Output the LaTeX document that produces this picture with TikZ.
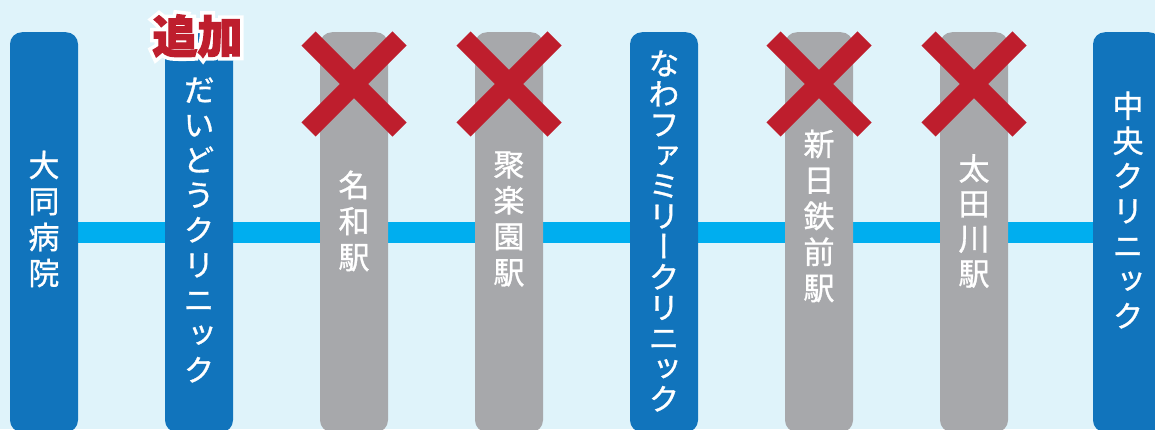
\documentclass[tikz,border=0pt]{standalone}
\usepackage{fontspec}
\newfontfamily\jp[RawFeature=+vert,FakeBold=1]{Noto Sans CJK JP}
\newfontfamily\jpb[FakeBold=3]{Noto Sans CJK JP}
\newfontfamily\jpbw[FakeBold=19]{Noto Sans CJK JP}
\definecolor{bgc}{HTML}{DFF3FA}
\definecolor{barblue}{HTML}{1174BC}
\definecolor{bargray}{HTML}{A7A8AB}
\definecolor{linec}{HTML}{00AEEF}
\definecolor{xred}{HTML}{BE1E2D}
\pgfdeclarelayer{bg}
\pgfsetlayers{bg,main}
\tikzset{
  bar/.style={rectangle,rounded corners=12pt,anchor=north,minimum width=68pt,minimum height=400pt,inner sep=0pt,draw=none},
  bluebar/.style={bar,fill=barblue},
  graybar/.style={bar,fill=bargray},
  lbl/.style={text=white,align=center,inner sep=0pt,font=\jp\fontsize{31}{36}\selectfont},
  lblk/.style={lbl,font=\jp\fontsize{31}{35}\selectfont},
  lbltight/.style={lbl,font=\jp\fontsize{31}{30.5}\selectfont},
  cross/.style={xred,line width=20pt,line cap=butt},
  tag/.style={text=xred,inner sep=0pt,font=\jpb\bfseries\fontsize{45}{45}\selectfont},
  tagw/.style={text=white,inner sep=0pt,font=\jpbw\bfseries\fontsize{45}{45}\selectfont}
}
\begin{document}
\begin{tikzpicture}[x=1pt,y=-1pt]
\useasboundingbox (0,0) rectangle (1155,429);
% bars
\node[bluebar] (b1) at (44,32) {};
\node[bluebar] (b2) at (199,32) {};
\node[graybar] (b3) at (354,32) {};
\node[graybar] (b4) at (509,32) {};
\node[bluebar] (b5) at (664,32) {};
\node[graybar] (b6) at (819,32) {};
\node[graybar] (b7) at (974,32) {};
\node[bluebar] (b8) at (1127,32) {};
\begin{pgfonlayer}{bg}
\fill[bgc] (0,0) rectangle (1155,429);
\draw[linec,line width=21pt] (b1.center) -- (b2.center) -- (b3.center) -- (b4.center) -- (b5.center) -- (b6.center) -- (b7.center) -- (b8.center);
\end{pgfonlayer}
% labels
\node[lbl] (t1) at (44,219) {大\\同\\病\\院};
\node[lblk] (t2) at (199,230) {だ\\い\\ど\\う\\ク\\リ\\ニ\\ッ\\ク};
\node[lbl] (t3) at (354,221) {名\\和\\駅};
\node[lbl] (t4) at (509,219) {聚\\楽\\園\\駅};
\node[lbltight] (t5) at (664,231) {な\\わ\\フ\\ァ\\ミ\\リ\\ー\\ク\\リ\\ニ\\ッ\\ク};
\node[lbl] (t6) at (819,216) {新\\日\\鉄\\前\\駅};
\node[lblk] (t7) at (974,221) {太\\田\\川\\駅};
\node[lblk] (t8) at (1128,210) {中\\央\\ク\\リ\\ニ\\ッ\\ク};
% crosses
\foreach \n/\cx in {3/354,4/509,6/819,7/974}{
  \coordinate (x\n a) at (\cx-45.5,38.5);
  \coordinate (x\n b) at (\cx+45.5,129.5);
  \coordinate (x\n c) at (\cx+45.5,38.5);
  \coordinate (x\n d) at (\cx-45.5,129.5);
  \draw[cross] (x\n a) -- (x\n b);
  \draw[cross] (x\n c) -- (x\n d);
}
% added tag: white outline then red fill
\node[tagw] (addw) at (197.5,36) {追加};
\node[tag] (add) at (197.5,36) {追加};
\end{tikzpicture}
\end{document}
